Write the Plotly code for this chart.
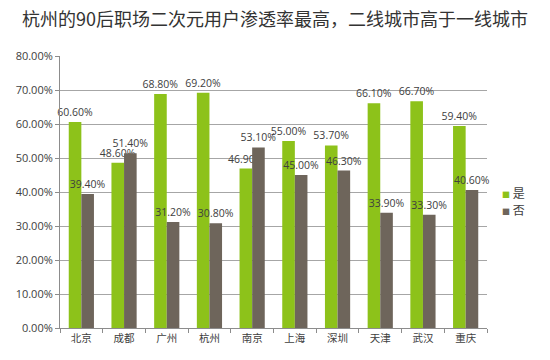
import plotly.graph_objects as go

categories = ["北京", "成都", "广州", "杭州", "南京", "上海", "深圳", "天津", "武汉", "重庆"]
yes_values = [60.6, 48.6, 68.8, 69.2, 46.9, 55.0, 53.7, 66.1, 66.7, 59.4]
no_values = [39.4, 51.4, 31.2, 30.8, 53.1, 45.0, 46.3, 33.9, 33.3, 40.6]
series_names = ["是", "否"]
series_colors = ["#8DC21A", "#6E655B"]
title_text = "杭州的90后职场二次元用户渗透率最高，二线城市高于一线城市"
y_tick_values = [0, 10, 20, 30, 40, 50, 60, 70, 80]
y_tick_labels = [f"{v:.2f}%" for v in y_tick_values]

FONT = "Open Sans, Noto Sans CJK SC, sans-serif"

fig = go.Figure()
for vals, name, color in [(yes_values, series_names[0], series_colors[0]),
                          (no_values, series_names[1], series_colors[1])]:
    fig.add_trace(go.Bar(
        x=categories, y=vals, name=name,
        marker=dict(color=color, line=dict(width=0)),
        text=[f"{v:.2f}%" for v in vals], textposition="outside",
        constraintext="none",
        textfont=dict(size=10.5, color="#404040", family=FONT), cliponaxis=False,
        showlegend=False,
    ))

# legend drawn as annotations (small square markers)
for i, (name, color) in enumerate(zip(series_names, series_colors)):
    fig.add_annotation(
        xref="paper", yref="paper", x=1.03, y=0.50 - i * 0.066,
        xanchor="left", yanchor="middle", showarrow=False,
        text=f"<span style='color:{color};font-size:8px'>■</span> {name}",
        font=dict(size=12, color="#404040", family="Noto Sans CJK SC"),
    )

fig.update_layout(
    width=550, height=360,
    margin=dict(l=52, r=71, t=48, b=40, autoexpand=False),
    paper_bgcolor="white", plot_bgcolor="white",
    barmode="group", bargap=0.41, bargroupgap=0,
    font=dict(family=FONT, size=11, color="#404040"),
    title=dict(text=title_text, x=267 / 550, xanchor="center", y=1 - 12 / 360, yanchor="middle",
               font=dict(size=18, color="#333333", family="Noto Sans CJK SC, sans-serif")),
)
fig.update_xaxes(
    type="category", showline=True, linecolor="#8C8C8C", linewidth=1,
    ticks="outside", tickson="boundaries", ticklen=4, tickcolor="#8C8C8C",
    showgrid=False, tickfont=dict(size=10.5, color="#404040", family="Noto Sans CJK SC"),
)
fig.update_yaxes(
    range=[0, 80], tickvals=y_tick_values, ticktext=y_tick_labels,
    showline=True, linecolor="#8C8C8C", linewidth=1,
    ticks="outside", ticklen=4, tickcolor="#8C8C8C",
    showgrid=True, gridcolor="#A6A6A6", gridwidth=1, zeroline=False,
    tickfont=dict(size=11, color="#404040", family=FONT),
)

fig.write_html("out.html")
